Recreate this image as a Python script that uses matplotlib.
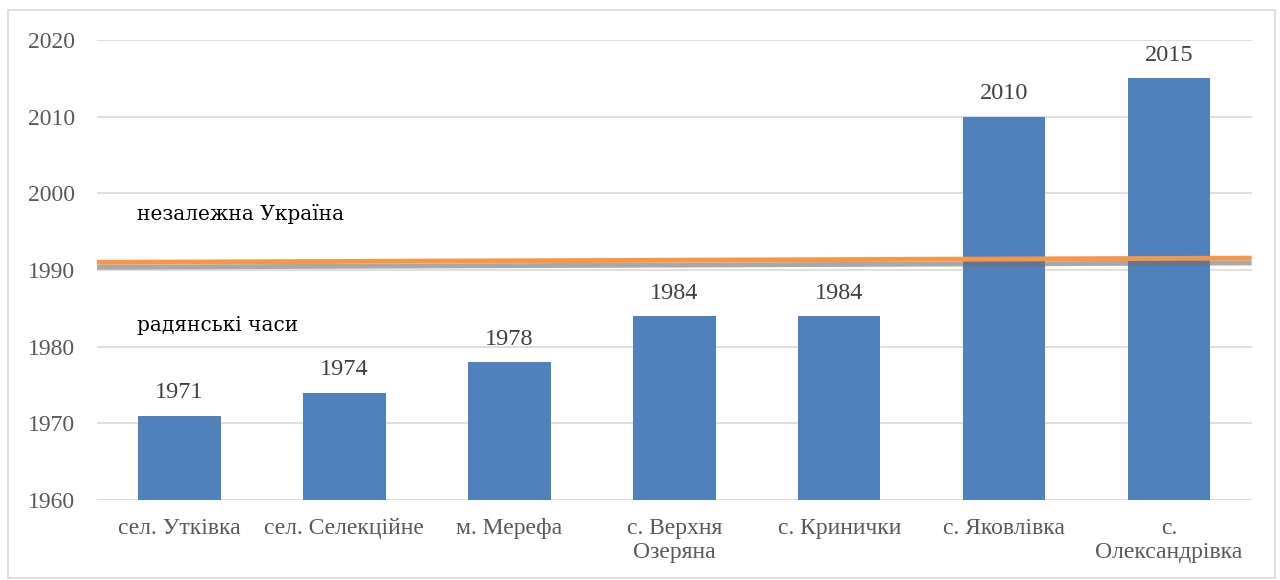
import matplotlib.pyplot as plt
import matplotlib.patheffects as pe
from matplotlib.patches import Rectangle

# Settlements and the year each one joined
settlements = ["сел. Утківка", "сел. Селекційне", "м. Мерефа", "с. Верхня\nОзеряна",
               "с. Кринички", "с. Яковлівка", "с.\nОлександрівка"]
years = [1971, 1974, 1978, 1984, 1984, 2010, 2015]
yticks = [1960, 1970, 1980, 1990, 2000, 2010, 2020]

# Boundary between the two eras (slightly tilted, as drawn by hand)
border_start = 1991.0
border_end = 1991.55
era_labels = ["незалежна Україна", "радянські часи"]
era_label_y = [1997.3, 1982.8]

fig = plt.figure(figsize=(12.8, 5.8), dpi=100)
ax = fig.add_axes([0.0758, 0.138, 0.902, 0.793])

x = range(len(settlements))
ax.bar(x, [v - 1960 for v in years], bottom=1960, width=0.5, color="#4F81BD", zorder=2)
for xi, v in zip(x, years):
    ax.text(xi, v + 1.6, str(v), ha="center", va="bottom", fontsize=17.5,
            family="Liberation Serif", color="#404040")

ax.set_ylim(1960, 2020)
ax.set_xlim(-0.5, len(settlements) - 0.5)
ax.set_yticks(yticks)
ax.set_yticklabels([str(t) for t in yticks], family="Liberation Serif", fontsize=17, color="#595959")
ax.set_xticks(list(x))
ax.set_xticklabels(settlements, family="Liberation Serif", fontsize=17, color="#595959",
                   linespacing=1.2)
ax.tick_params(axis="y", length=0, pad=16)
ax.tick_params(axis="x", length=0, pad=13)
ax.grid(axis="y", color="#D9D9D9", linewidth=1.2, zorder=0)
for s in ax.spines.values():
    s.set_visible(False)

# Orange era line with a soft drop shadow
ax.plot([-0.5, len(settlements) - 0.5], [border_start, border_end], color="#F79646",
        linewidth=3.5, solid_capstyle="butt", zorder=4,
        path_effects=[pe.SimpleLineShadow(offset=(0, -3.5), shadow_color="#6F6F6F", alpha=0.6),
                      pe.Normal()])

for lbl, ly in zip(era_labels, era_label_y):
    ax.text(0.035, ly, lbl, transform=ax.get_yaxis_transform(), fontsize=14.5,
            family="DejaVu Serif", color="black", va="center", ha="left")

# Light frame around the whole chart
fig.patches.append(Rectangle((0.006, 0.003), 0.99, 0.98, transform=fig.transFigure,
                             fill=False, edgecolor="#D9D9D9", linewidth=1.2))

fig.savefig("out.png")
